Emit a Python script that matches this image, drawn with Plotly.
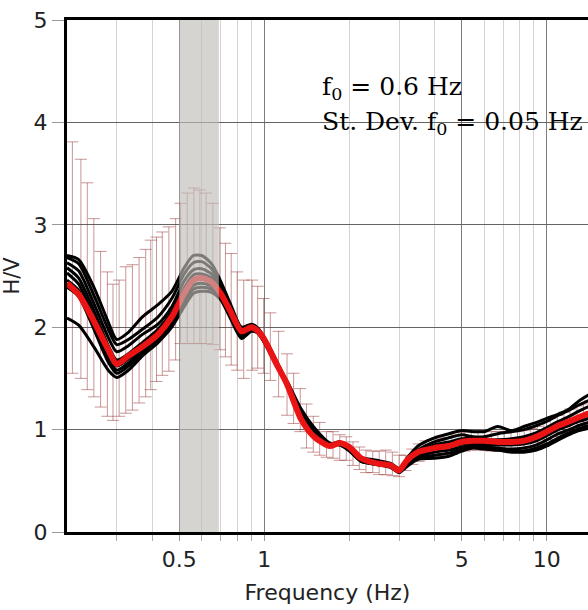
import plotly.graph_objects as go

# ---------------- data ----------------
freq = [0.2, 0.22, 0.25, 0.28, 0.3, 0.33, 0.37, 0.42, 0.47, 0.52, 0.56, 0.6, 0.65, 0.7, 0.76, 0.83,
        0.9, 0.95, 1.0, 1.1, 1.2, 1.35, 1.5, 1.7, 1.85, 2.0, 2.2, 2.5, 2.8, 3.0, 3.2, 3.5, 4.0, 4.5,
        5.0, 5.5, 6.0, 6.7, 7.5, 8.3, 9.2, 10, 11, 12, 13, 14.5]

mean_hv = [2.43, 2.32, 2.05, 1.78, 1.64, 1.72, 1.81, 1.93, 2.10, 2.33, 2.46, 2.48, 2.44, 2.33, 2.15, 1.96,
           2.00, 1.96, 1.88, 1.65, 1.45, 1.10, 0.93, 0.84, 0.87, 0.83, 0.72, 0.67, 0.65, 0.60, 0.70, 0.78, 0.82, 0.84,
           0.88, 0.89, 0.89, 0.88, 0.88, 0.89, 0.93, 0.98, 1.04, 1.08, 1.12, 1.17]

curve_a = [2.70, 2.66, 2.38, 2.05, 1.88, 1.95, 2.10, 2.22, 2.35, 2.58, 2.70, 2.70, 2.62, 2.45, 2.22, 2.00,
           2.03, 1.99, 1.90, 1.68, 1.46, 1.12, 0.96, 0.86, 0.88, 0.83, 0.73, 0.70, 0.67, 0.62, 0.72, 0.84, 0.92, 0.96,
           0.99, 0.98, 0.98, 1.03, 0.99, 1.03, 1.07, 1.11, 1.15, 1.20, 1.28, 1.36]
curve_b = [2.68, 2.62, 2.30, 1.98, 1.83, 1.88, 1.98, 2.10, 2.28, 2.52, 2.63, 2.64, 2.57, 2.42, 2.20, 1.98,
           2.02, 1.98, 1.89, 1.67, 1.44, 1.10, 0.94, 0.85, 0.88, 0.82, 0.72, 0.69, 0.66, 0.61, 0.70, 0.80, 0.88, 0.92,
           0.95, 0.93, 0.93, 0.96, 0.98, 1.00, 1.04, 1.08, 1.14, 1.19, 1.24, 1.30]
curve_c = [2.63, 2.55, 2.22, 1.90, 1.76, 1.82, 1.93, 2.03, 2.20, 2.45, 2.56, 2.57, 2.52, 2.38, 2.18, 1.97,
           2.01, 1.97, 1.88, 1.66, 1.44, 1.09, 0.93, 0.84, 0.87, 0.81, 0.71, 0.68, 0.66, 0.60, 0.69, 0.78, 0.85, 0.88,
           0.91, 0.91, 0.90, 0.90, 0.91, 0.93, 0.97, 1.02, 1.08, 1.13, 1.18, 1.24]
curve_d = [2.58, 2.48, 2.15, 1.82, 1.68, 1.74, 1.85, 1.98, 2.15, 2.38, 2.51, 2.52, 2.48, 2.36, 2.16, 1.96,
           2.00, 1.96, 1.87, 1.65, 1.43, 1.10, 0.94, 0.85, 0.87, 0.82, 0.71, 0.68, 0.65, 0.60, 0.68, 0.77, 0.83, 0.85,
           0.89, 0.89, 0.88, 0.87, 0.87, 0.88, 0.92, 0.97, 1.03, 1.07, 1.11, 1.16]
curve_e = [2.53, 2.42, 2.08, 1.76, 1.62, 1.69, 1.80, 1.94, 2.10, 2.32, 2.46, 2.47, 2.43, 2.33, 2.15, 1.95,
           1.99, 1.96, 1.87, 1.65, 1.45, 1.12, 0.95, 0.84, 0.86, 0.81, 0.70, 0.67, 0.65, 0.59, 0.67, 0.76, 0.81, 0.83,
           0.86, 0.87, 0.86, 0.85, 0.85, 0.86, 0.89, 0.94, 1.00, 1.04, 1.08, 1.12]
curve_f = [2.46, 2.36, 2.02, 1.70, 1.58, 1.65, 1.78, 1.90, 2.06, 2.28, 2.41, 2.43, 2.40, 2.30, 2.12, 1.93,
           1.98, 1.95, 1.86, 1.64, 1.46, 1.15, 0.97, 0.85, 0.86, 0.80, 0.70, 0.67, 0.64, 0.59, 0.66, 0.74, 0.78, 0.80,
           0.83, 0.85, 0.84, 0.82, 0.81, 0.82, 0.85, 0.90, 0.96, 1.00, 1.04, 1.08]
curve_g = [2.39, 2.30, 1.97, 1.66, 1.55, 1.62, 1.75, 1.87, 2.03, 2.24, 2.37, 2.39, 2.37, 2.28, 2.10, 1.91,
           1.97, 1.94, 1.85, 1.63, 1.47, 1.17, 0.99, 0.86, 0.85, 0.80, 0.69, 0.66, 0.64, 0.58, 0.65, 0.72, 0.75, 0.77,
           0.81, 0.83, 0.82, 0.80, 0.79, 0.79, 0.82, 0.86, 0.92, 0.97, 1.01, 1.05]
curve_h = [2.09, 2.02, 1.80, 1.58, 1.51, 1.58, 1.72, 1.85, 2.00, 2.20, 2.33, 2.35, 2.34, 2.27, 2.08, 1.89,
           1.96, 1.94, 1.85, 1.64, 1.48, 1.20, 1.02, 0.87, 0.85, 0.79, 0.69, 0.66, 0.63, 0.58, 0.64, 0.71, 0.72, 0.74,
           0.79, 0.82, 0.81, 0.80, 0.78, 0.78, 0.80, 0.84, 0.90, 0.95, 0.99, 1.02]

eb_freq = [0.209, 0.224, 0.236, 0.249, 0.263, 0.278, 0.291, 0.306, 0.323, 0.341, 0.360, 0.380, 0.396, 0.415,
           0.435, 0.459, 0.485, 0.505, 0.533, 0.563, 0.591, 0.622, 0.657, 0.695, 0.728, 0.763, 0.801, 0.845,
           0.905, 0.947, 0.994, 1.050, 1.123, 1.203, 1.269, 1.340,
           1.41, 1.49, 1.57, 1.66, 1.75, 1.85, 1.95, 2.06, 2.17, 2.29, 2.42, 2.55, 2.69, 2.84, 3.0,
           3.16, 3.34, 3.52, 3.72, 3.92, 4.14, 4.37, 4.61, 4.86, 5.13, 5.41, 5.71, 6.03, 6.36, 6.71, 7.08,
           7.47, 7.88, 8.32, 8.78, 9.26, 9.77, 10.3, 10.9, 11.5, 12.1, 12.8, 13.5, 14.2]
eb_upper = [3.81, 3.64, 3.41, 3.06, 2.74, 2.54, 2.42, 2.46, 2.59, 2.61, 2.68, 2.76, 2.85, 2.88,
            2.93, 2.98, 3.06, 3.21, 3.31, 3.36, 3.34, 3.31, 3.21, 2.97, 2.82, 2.72, 2.54, 2.46,
            2.46, 2.40, 2.28, 2.14, 1.96, 1.74, 1.55, 1.40,
            1.25, 1.13, 1.07, 0.98, 0.98, 0.95, 0.93, 0.88, 0.83, 0.80, 0.79, 0.79, 0.80, 0.78, 0.75,
            0.75, 0.81, 0.86, 0.89, 0.90, 0.91, 0.92, 0.95, 0.97, 0.98, 0.99, 0.99, 0.99, 0.98, 0.98, 0.98,
            0.98, 0.98, 0.99, 1.01, 1.03, 1.08, 1.11, 1.14, 1.17, 1.20, 1.23, 1.25, 1.28]
eb_lower = [1.55, 1.50, 1.39, 1.32, 1.22, 1.13, 1.09, 1.13, 1.16, 1.19, 1.26, 1.32, 1.39, 1.47,
            1.53, 1.57, 1.68, 1.84, 1.84, 1.84, 1.84, 1.84, 1.83, 1.78, 1.71, 1.63, 1.58, 1.50,
            1.58, 1.60, 1.55, 1.48, 1.32, 1.14, 1.06, 0.98,
            0.82, 0.78, 0.75, 0.73, 0.72, 0.70, 0.70, 0.65, 0.61, 0.58, 0.58, 0.56, 0.56, 0.55, 0.54,
            0.60, 0.66, 0.69, 0.72, 0.73, 0.74, 0.75, 0.76, 0.78, 0.79, 0.80, 0.80, 0.80, 0.79, 0.79, 0.79,
            0.79, 0.79, 0.80, 0.82, 0.84, 0.87, 0.90, 0.93, 0.95, 0.97, 1.00, 1.02, 1.04]

band_f = [0.5, 0.69]          # shaded f0 +- std band
x_major = [0.5, 1, 5, 10]
x_major_text = ["0.5", "1", "5", "10"]
x_minor = [0.3, 0.4, 0.6, 0.7, 0.8, 0.9, 2, 3, 4, 6, 7, 8, 9, 20]
y_ticks = [0, 1, 2, 3, 4, 5]
f0_text = "f<sub>0</sub> = 0.6 Hz"
sd_text = "St. Dev. f<sub>0</sub> = 0.05 Hz"

# ---------------- figure ----------------
fig = go.Figure()

eb_mid = [(u + l) / 2 for u, l in zip(eb_upper, eb_lower)]
eb_half = [(u - l) / 2 for u, l in zip(eb_upper, eb_lower)]
fig.add_trace(go.Scatter(
    x=eb_freq, y=eb_mid, mode="markers",
    marker=dict(size=1, color="rgba(0,0,0,0)"),
    error_y=dict(type="data", array=eb_half, symmetric=True,
                 color="rgba(150,45,45,0.5)", thickness=1, width=6),
    hoverinfo="skip", showlegend=False))

for c in [curve_a, curve_b, curve_c, curve_d, curve_e, curve_f, curve_g, curve_h]:
    fig.add_trace(go.Scatter(x=freq, y=c, mode="lines",
                             line=dict(color="black", width=3, shape="spline", smoothing=0.7),
                             showlegend=False))

fig.add_trace(go.Scatter(x=freq, y=mean_hv, mode="lines",
                         line=dict(color="rgb(235,20,20)", width=6, shape="spline", smoothing=0.7),
                         showlegend=False))

fig.add_shape(type="rect", xref="x", yref="paper", x0=band_f[0], x1=band_f[1], y0=0, y1=1,
              fillcolor="rgb(192,189,184)", opacity=0.65, line=dict(width=0), layer="above")

fig.add_annotation(text=f0_text, xref="paper", yref="paper", x=0.4856, y=0.867,
                   xanchor="left", yanchor="middle", showarrow=False,
                   font=dict(family="DejaVu Serif", size=25, color="black"))
fig.add_annotation(text=sd_text, xref="paper", yref="paper", x=0.4856, y=0.799,
                   xanchor="left", yanchor="middle", showarrow=False,
                   font=dict(family="DejaVu Serif", size=25, color="black"))

axis_font = dict(family="DejaVu Sans", size=22, color="#222")
fig.update_xaxes(
    type="log", range=[-0.69897, 1.1461],
    tickmode="array", tickvals=x_major, ticktext=x_major_text,
    tickfont=axis_font, ticks="outside", ticklen=6, tickcolor="#999", tickwidth=1,
    showgrid=True, gridcolor="rgb(125,125,125)", gridwidth=1,
    minor=dict(tickmode="array", tickvals=x_minor, showgrid=True, gridcolor="rgb(212,212,212)",
               gridwidth=1, ticks="outside", ticklen=6, tickcolor="#aaa"),
    showline=True, linecolor="black", linewidth=3, mirror=True,
    title=dict(text="Frequency (Hz)", font=dict(family="DejaVu Sans", size=22, color="#222"), standoff=14),
    zeroline=False)
fig.update_yaxes(
    range=[0, 5], tickmode="array", tickvals=y_ticks,
    tickfont=axis_font, ticks="outside", ticklen=12, tickcolor="#999", tickwidth=1,
    showgrid=True, gridcolor="rgb(100,100,100)", gridwidth=1,
    showline=True, linecolor="black", linewidth=3, mirror=False,
    title=dict(text="H/V", font=dict(family="DejaVu Sans", size=21, color="#222"), standoff=10),
    zeroline=False)

fig.update_layout(width=588, height=610, margin=dict(l=67, r=0, t=20, b=78),
                  paper_bgcolor="white", plot_bgcolor="white", showlegend=False)

fig.write_html("out.html")
